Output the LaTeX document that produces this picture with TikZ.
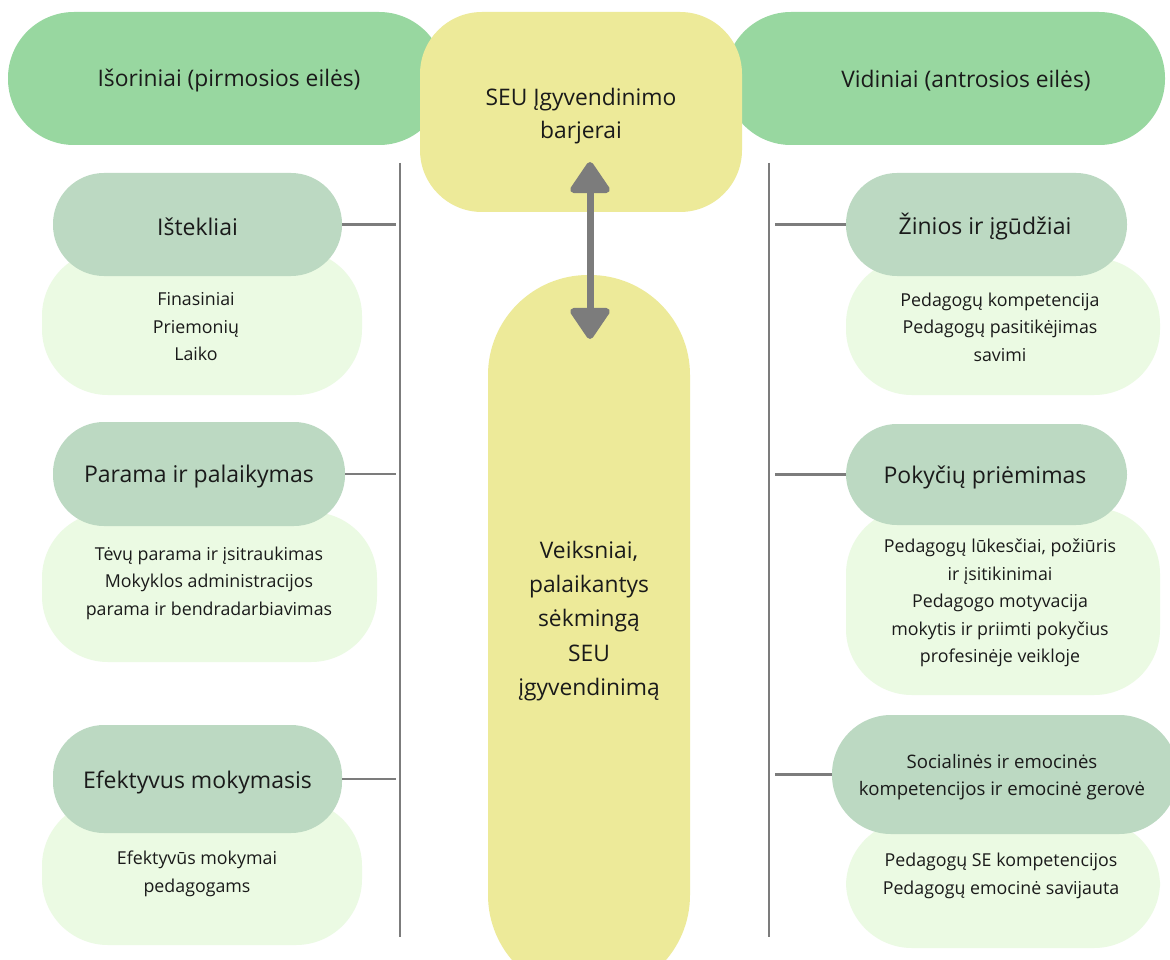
\documentclass[tikz,border=0pt]{standalone}
\usepackage{fontspec}
\setmainfont{Open Sans}
\usetikzlibrary{arrows.meta}
\definecolor{topgreen}{HTML}{98D7A0}
\definecolor{ylw}{HTML}{EDEA99}
\definecolor{sage}{HTML}{BCD9C2}
\definecolor{pale}{HTML}{EBFAE3}
\definecolor{lgrey}{HTML}{7C7C7C}
\definecolor{txt}{HTML}{1A1A1A}
\tikzset{
  pill/.style={rectangle, inner sep=0pt, outer sep=0pt, draw=none},
  toppill/.style={pill, fill=topgreen, rounded corners=66pt},
  catpill/.style={pill, fill=sage, rounded corners=51pt, draw=none},
  cattext/.style={inner sep=0pt, text=txt, font=\fontsize{23}{28}\selectfont, align=center},
  palepill/.style={pill, fill=pale, rounded corners=66pt},
  subtext/.style={inner sep=0pt, text=txt, font=\fontsize{17.8}{27.5}\selectfont, align=center},
  toptext/.style={inner sep=0pt, text=txt, font=\fontsize{22.8}{33}\selectfont, align=center},
  vline/.style={draw=lgrey, line width=2.6pt},
  stub/.style={draw=lgrey, line width=2.6pt},
}
\begin{document}
\begin{tikzpicture}[x=1pt,y=-1pt]
\useasboundingbox (0,0) rectangle (1170,960);
\clip (0,0) rectangle (1170,960);
\fill[white] (0,0) rectangle (1170,960);
% top green pills
\node[toppill, minimum width=437pt, minimum height=133pt] (topL) at (226.5,78.5) {};
\node[toppill, minimum width=440pt, minimum height=133pt] (topR) at (945,78.5) {};
\node[toptext] (topLt) at (229,81) {Išoriniai (pirmosios eilės)};
\node[toptext] (topRt) at (966,81) {Vidiniai (antrosios eilės)};
% central top yellow box
\node[pill, fill=ylw, rounded corners=62pt, minimum width=322pt, minimum height=200pt] (barj) at (581,112) {};
\node[toptext] (barjt) at (581,116) {SEU Įgyvendinimo\\barjerai};
% central lower yellow pill
\node[pill, fill=ylw, rounded corners=100pt, minimum width=202pt, minimum height=720pt] (veik) at (589,635) {};
\node[inner sep=0pt, text=txt, font=\fontsize{22.8}{34.3}\selectfont, align=center] (veikt) at (589,621) {Veiksniai,\\palaikantys\\sėkmingą\\SEU\\įgyvendinimą};
% vertical lines
\coordinate (lTop) at (400,163);
\coordinate (lBot) at (400,937);
\coordinate (rTop) at (769,163);
\coordinate (rBot) at (769,937);
\draw[vline] (lTop) -- (lBot);
\draw[vline] (rTop) -- (rBot);
% left pale pills
\node[palepill, minimum width=320pt, minimum height=145pt] (istP) at (202,322.5) {};
\node[palepill, minimum width=335pt, minimum height=150pt] (parP) at (209.5,587) {};
\node[palepill, minimum width=320pt, minimum height=145pt] (efP) at (202,872.5) {};
% left category pills
\node[catpill, minimum width=289pt, minimum height=103pt] (ist) at (197.5,224.5) {};
\node[catpill, minimum width=292pt, minimum height=104pt] (par) at (199,474) {};
\node[catpill, minimum width=289pt, minimum height=108pt] (ef) at (197.5,779) {};
\node[cattext] (istL) at (197.5,227) {Ištekliai};
\node[cattext] (parL) at (199,477) {Parama ir palaikymas};
\node[cattext] (efL) at (197.5,782) {Efektyvus mokymasis};
% left sub texts
\node[subtext] (istT) at (196,327) {Finasiniai\\Priemonių\\Laiko};
\node[subtext] (parT) at (209,583) {Tėvų parama ir įsitraukimas\\Mokyklos administracijos\\parama ir bendradarbiavimas};
\node[subtext] (efT) at (197,874) {Efektyvūs mokymai\\pedagogams};
% right pale pills
\node[palepill, minimum width=314pt, minimum height=137pt] (zinP) at (1003,326.5) {};
\node[palepill, minimum width=314pt, minimum height=187pt] (pokP) at (1003,601.5) {};
\node[palepill, minimum width=314pt, minimum height=128pt] (socP) at (1003,884) {};
% right category pills
\node[catpill, minimum width=281pt, minimum height=103pt] (zin) at (986.5,224.5) {};
\node[catpill, minimum width=281pt, minimum height=101pt] (pok) at (986.5,474.5) {};
\node[catpill, minimum width=346pt, minimum height=119pt, rounded corners=59pt] (soc) at (1005,774.5) {};
\node[cattext] (zinL) at (985,227) {Žinios ir įgūdžiai};
\node[cattext] (pokL) at (985,477) {Pokyčių priėmimas};
\node[inner sep=0pt, text=txt, font=\fontsize{18.6}{26.5}\selectfont, align=center] (socT) at (1002,777) {Socialinės ir emocinės\\kompetencijos ir emocinė gerovė};
% right sub texts
\node[subtext] (zinT) at (1000,327) {Pedagogų kompetencija\\Pedagogų pasitikėjimas\\savimi};
\node[subtext] (pokT) at (1000,603) {Pedagogų lūkesčiai, požiūris\\ir įsitikinimai\\Pedagogo motyvacija\\mokytis ir priimti pokyčius\\profesinėje veikloje};
\node[subtext] (socST) at (1001,876) {Pedagogų SE kompetencijos\\Pedagogų emocinė savijauta};
% stubs
\draw[stub, shorten >=4pt] (ist.east) -- (ist.east -| lTop);
\draw[stub, shorten >=4pt] (par.east) -- (par.east -| lTop);
\draw[stub, shorten >=4pt] (ef.east) -- (ef.east -| lTop);
\draw[stub, shorten >=6pt] (zin.west) -- (zin.west -| rTop);
\draw[stub, shorten >=6pt] (pok.west) -- (pok.west -| rTop);
\draw[stub, shorten >=6pt] (soc.west) -- (soc.west -| rTop);
% double arrow
\coordinate (aTop) at (590,162);
\coordinate (aBot) at (590,339);
\draw[draw=lgrey, line width=7pt, {Triangle[length=34pt,width=44pt,round]}-{Triangle[length=34pt,width=44pt,round]}] (aTop) -- (aBot);
\end{tikzpicture}
\end{document}
